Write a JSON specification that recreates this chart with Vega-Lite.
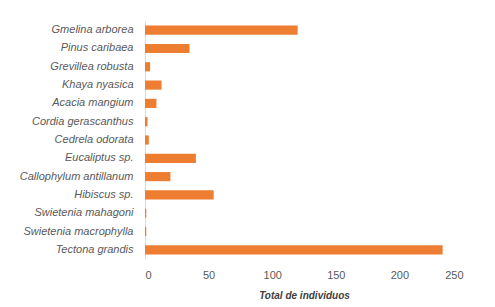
{
  "$schema": "https://vega.github.io/schema/vega-lite/v6.json",
  "autosize": "none",
  "padding": {"left": 145, "top": 21, "right": 32, "bottom": 48},
  "width": 318,
  "height": 238,
  "background": "white",
  "data": {"values": [
    {"especie": "Gmelina arborea", "total": 120},
    {"especie": "Pinus caribaea", "total": 35},
    {"especie": "Grevillea robusta", "total": 4},
    {"especie": "Khaya nyasica", "total": 13},
    {"especie": "Acacia mangium", "total": 9},
    {"especie": "Cordia gerascanthus", "total": 2},
    {"especie": "Cedrela odorata", "total": 3},
    {"especie": "Eucaliptus sp.", "total": 40},
    {"especie": "Callophylum antillanum", "total": 20},
    {"especie": "Hibiscus sp.", "total": 54},
    {"especie": "Swietenia mahagoni", "total": 1},
    {"especie": "Swietenia macrophylla", "total": 1},
    {"especie": "Tectona grandis", "total": 234}
  ]},
  "mark": {"type": "bar", "color": "#ED7D31"},
  "encoding": {
    "y": {
      "field": "especie", "type": "nominal", "sort": null,
      "scale": {"paddingInner": 0.5, "paddingOuter": 0.25},
      "axis": {"title": null, "ticks": false, "domainColor": "#d9d9d9", "labelFont": "Liberation Sans", "labelFontSize": 11, "labelFontStyle": "italic", "labelColor": "#595959", "labelPadding": 12}
    },
    "x": {
      "field": "total", "type": "quantitative",
      "scale": {"domain": [0, 250], "nice": false},
      "axis": {"title": "Total de individuos", "values": [0, 50, 100, 150, 200, 250], "grid": false, "domain": false, "ticks": false, "labelFont": "Liberation Sans", "labelFontSize": 11, "labelColor": "#595959", "labelPadding": 10, "titleFont": "Liberation Sans", "titleFontSize": 10, "titleFontStyle": "italic", "titleFontWeight": "bold", "titleColor": "#404040", "titlePadding": 10}
    }
  },
  "config": {"view": {"stroke": null}}
}
